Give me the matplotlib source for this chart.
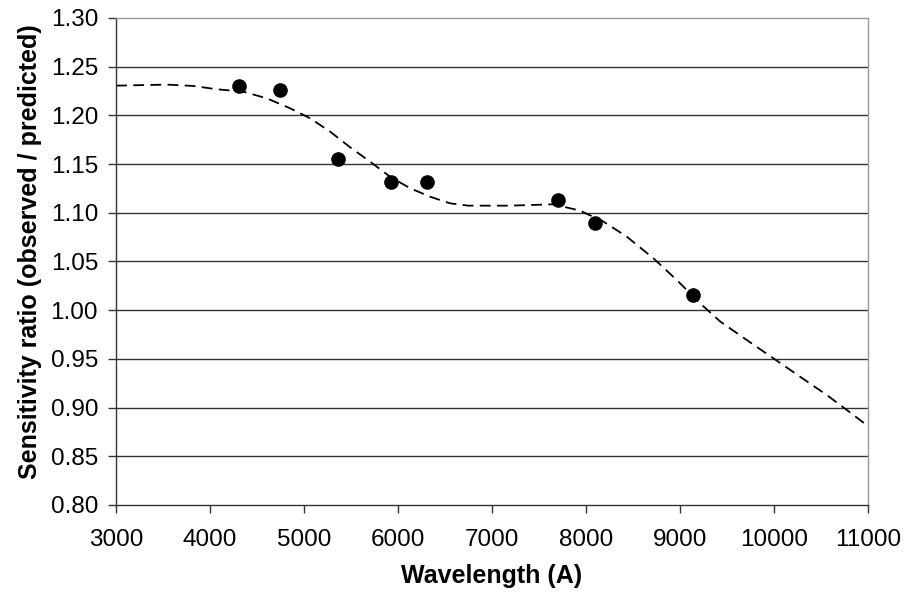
import matplotlib
matplotlib.use("Agg")
import matplotlib.pyplot as plt
import numpy as np

plt.rcParams['font.family'] = ['Liberation Sans', 'DejaVu Sans']

# observed points
obs_wl = [4310, 4745, 5365, 5926, 6309, 7702, 8096, 9138]
obs_ratio = [1.230, 1.226, 1.155, 1.132, 1.132, 1.113, 1.089, 1.016]

# fitted curve
fit_wl = [3000, 3539, 3823, 4071, 4354, 4603, 4851, 5064, 5277, 5489, 5702,
          5915, 6128, 6340, 6553, 6748, 7191, 7652, 7936, 8184, 8433, 8716,
          8965, 9213, 9426, 9709, 9993, 10277, 10560, 10773, 11000]
fit_ratio = [1.2305, 1.2316, 1.2302, 1.2268, 1.2243, 1.2175, 1.2073, 1.197,
             1.1833, 1.1673, 1.1525, 1.137, 1.1252, 1.1165, 1.1097, 1.1073,
             1.1073, 1.1087, 1.1022, 1.091, 1.0755, 1.0533, 1.031, 1.0071,
             0.9885, 0.9694, 0.9506, 0.9317, 0.913, 0.8976, 0.881]

fig = plt.figure(figsize=(9.07, 5.99), dpi=100)
ax = fig.add_axes([0.128, 0.157, 0.829, 0.813])

for y in np.arange(0.85, 1.30, 0.05):
    ax.axhline(y, color='#333333', lw=1.0, zorder=1)

ax.plot(fit_wl, fit_ratio, color='black', lw=1.3, dashes=(6, 3.5), zorder=2)
ax.plot(obs_wl, obs_ratio, 'o', color='black', ms=9.5, zorder=3)

ax.set_xlim(3000, 11000)
ax.set_ylim(0.80, 1.30)
ax.set_xticks(np.arange(3000, 11001, 1000))
ax.set_yticks(np.arange(0.80, 1.301, 0.05))
ax.set_yticklabels(['%.2f' % v for v in np.arange(0.80, 1.301, 0.05)])
ax.tick_params(direction='out', length=6, width=1, colors='#333333',
               labelcolor='black', labelsize=17.5)
ax.tick_params(axis='x', pad=11)
ax.tick_params(axis='y', pad=7)

for s in ['left', 'bottom']:
    ax.spines[s].set_color('#333333')
    ax.spines[s].set_linewidth(1.0)
for s in ['top', 'right']:
    ax.spines[s].set_color('#999999')
    ax.spines[s].set_linestyle((0, (1, 1)))
    ax.spines[s].set_linewidth(1.0)

ax.set_xlabel('Wavelength (A)', fontsize=18, fontweight='bold', labelpad=10)
ax.set_ylabel('Sensitivity ratio (observed / predicted)', fontsize=18,
              fontweight='bold')
ax.yaxis.set_label_coords(-0.098, 0.52)

fig.savefig('out.png', dpi=100)
